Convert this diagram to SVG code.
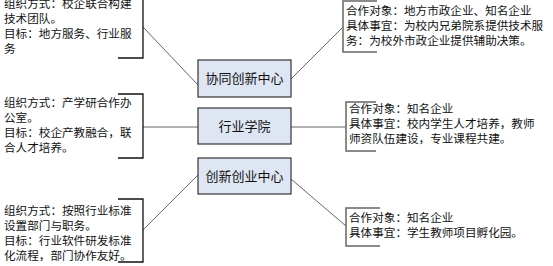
<svg xmlns="http://www.w3.org/2000/svg" width="553" height="266" viewBox="0 0 553 266">
<style>
text{font-family:"Liberation Sans","Noto Sans CJK SC",sans-serif;fill:#111}
.t{font-size:11.6px}
.c{font-size:13px;text-anchor:middle}
.box{fill:#dfe6f3;stroke:#333;stroke-width:1.2}
.lb{fill:none;stroke:#111;stroke-width:1.3}
.rb{fill:none;stroke:#666;stroke-width:1.5}
.con{fill:none;stroke:#555;stroke-width:0.9}
</style>
<rect width="553" height="266" fill="#fff"/>
<g id="connectors">
<line class="con" x1="143" y1="27" x2="198" y2="85"/>
<line class="con" x1="291" y1="79" x2="343" y2="27"/>
<line class="con" x1="143" y1="127" x2="198" y2="127"/>
<line class="con" x1="291" y1="127" x2="346" y2="127"/>
<line class="con" x1="143" y1="230" x2="198" y2="175"/>
<line class="con" x1="291" y1="179" x2="346" y2="226"/>
</g>
<g id="node-xietong">
<rect class="box" x="198" y="60" width="93" height="37"/>
<text class="c" x="244.5" y="83">协同创新中心</text>
</g>
<g id="node-hangye">
<rect class="box" x="198" y="108" width="93" height="36"/>
<text class="c" x="244.5" y="131">行业学院</text>
</g>
<g id="node-chuangxin">
<rect class="box" x="198" y="158" width="93" height="36"/>
<text class="c" x="244.5" y="181">创新创业中心</text>
</g>
<g id="note-left-1">
<path class="lb" d="M118,-5 H143 V58 H118"/>
<text class="t" x="4" y="8">组织方式：校企联合构建</text>
<text class="t" x="4" y="23">技术团队。</text>
<text class="t" x="4" y="38">目标：地方服务、行业服</text>
<text class="t" x="4" y="53">务</text>
</g>
<g id="note-left-2">
<path class="lb" d="M118,94 H143 V158 H118"/>
<text class="t" x="4" y="107">组织方式：产学研合作办</text>
<text class="t" x="4" y="122">公室。</text>
<text class="t" x="4" y="137">目标：校企产教融合，联</text>
<text class="t" x="4" y="152">合人才培养。</text>
</g>
<g id="note-left-3">
<path class="lb" d="M118,199 H143 V262 H118"/>
<text class="t" x="4" y="215">组织方式：按照行业标准</text>
<text class="t" x="4" y="230">设置部门与职务。</text>
<text class="t" x="4" y="245">目标：行业软件研发标准</text>
<text class="t" x="4" y="260">化流程，部门协作友好。</text>
</g>
<g id="note-right-1">
<path class="rb" d="M377,1 H343 V52 H377"/>
<text class="t" x="346" y="15">合作对象：地方市政企业、知名企业</text>
<text class="t" x="346" y="30">具体事宜：为校内兄弟院系提供技术服</text>
<text class="t" x="346" y="45">务：为校外市政企业提供辅助决策。</text>
</g>
<g id="note-right-2">
<path class="rb" d="M376,102 H346 V151 H376"/>
<text class="t" x="349" y="113">合作对象：知名企业</text>
<text class="t" x="349" y="128">具体事宜：校内学生人才培养，教师</text>
<text class="t" x="349" y="143">师资队伍建设，专业课程共建。</text>
</g>
<g id="note-right-3">
<path class="rb" d="M380,208 H346 V246 H380"/>
<text class="t" x="349" y="222">合作对象：知名企业</text>
<text class="t" x="349" y="237">具体事宜：学生教师项目孵化园。</text>
</g>
</svg>
